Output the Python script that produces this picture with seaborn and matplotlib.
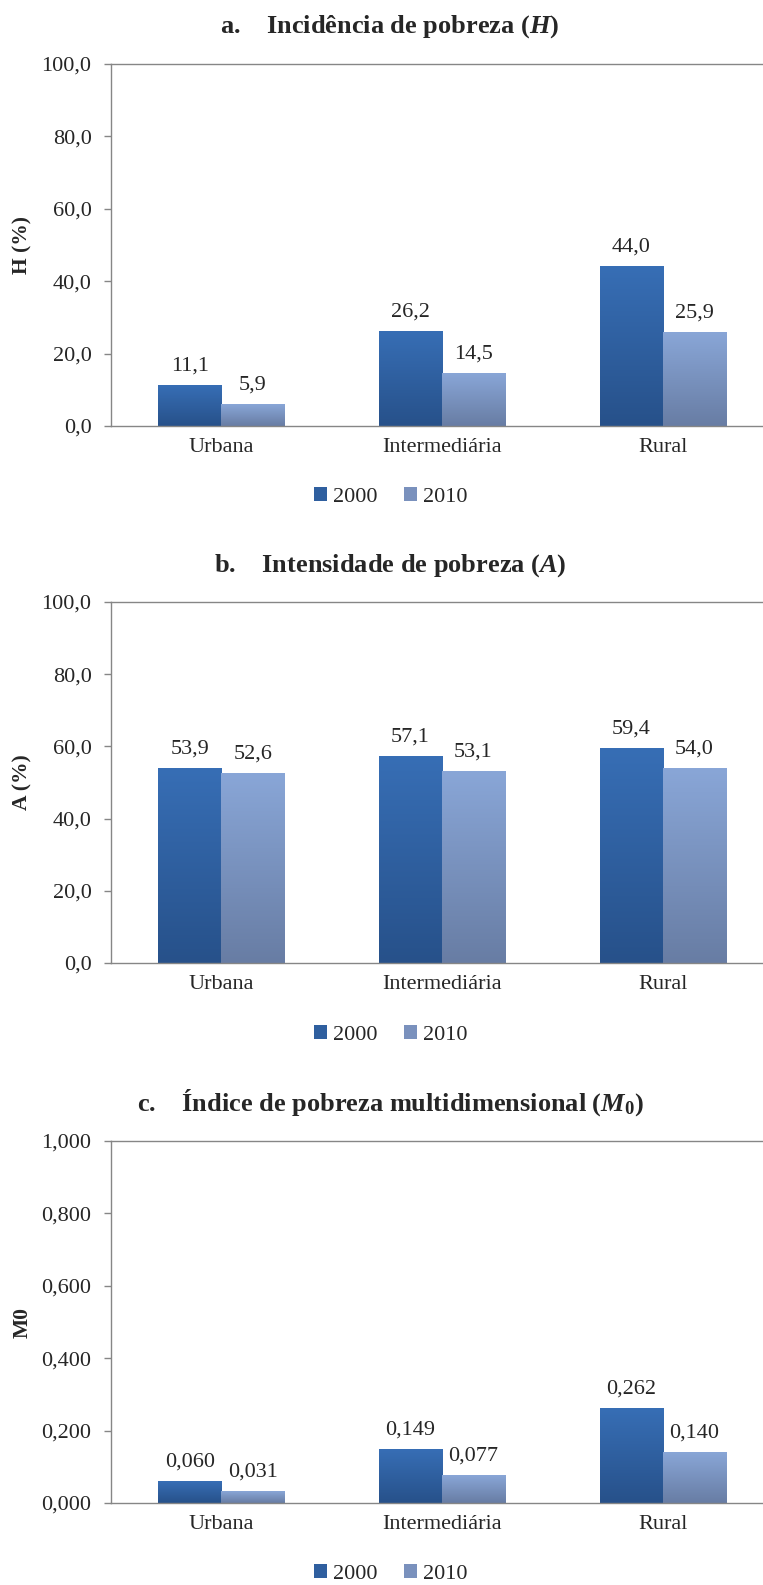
import numpy as np
import pandas as pd
import matplotlib
matplotlib.use('Agg')
import matplotlib.pyplot as plt
import seaborn as sns
from matplotlib.colors import LinearSegmentedColormap
from matplotlib.patches import Patch
from matplotlib.ticker import FuncFormatter

categorias = ['Urbana', 'Intermediária', 'Rural']
anos = ['2000', '2010']

H_2000 = [11.1, 26.2, 44.0]
H_2010 = [5.9, 14.5, 25.9]
A_2000 = [53.9, 57.1, 59.4]
A_2010 = [52.6, 53.1, 54.0]
M0_2000 = [0.060, 0.149, 0.262]
M0_2010 = [0.031, 0.077, 0.140]

titulos = [r'a.    Incidência de pobreza ($H$)',
           r'b.    Intensidade de pobreza ($A$)',
           r'c.    Índice de pobreza multidimensional ($M_0$)']
ylabels = ['H (%)', 'A (%)', 'M0']

sns.set_style('white')
plt.rcParams['font.family'] = ['Liberation Serif', 'DejaVu Serif']
plt.rcParams['mathtext.fontset'] = 'custom'
plt.rcParams['mathtext.it'] = 'Liberation Serif:italic:bold'
plt.rcParams['mathtext.rm'] = 'Liberation Serif:bold'
plt.rcParams['mathtext.bf'] = 'Liberation Serif:bold'

cinza = '#868686'
cmap_2000 = LinearSegmentedColormap.from_list('c2000', ['#27518a', '#376eb5'])
cmap_2010 = LinearSegmentedColormap.from_list('c2010', ['#687da4', '#89a6d7'])
cor_leg = ['#2f5f9f', '#7a91bd']
fs = 16

W, Hpx = 763, 1585
fig = plt.figure(figsize=(W / 100, Hpx / 100), dpi=100)

# pixel layout of each panel: (axes top, axes bottom, title y, legend y)
paineis = [(64, 426, 27, 497), (602, 963, 566, 1035), (1141, 1503, 1103, 1574)]
series = [(H_2000, H_2010), (A_2000, A_2010), (M0_2000, M0_2010)]
ymax = [100, 100, 1.0]
dec = [1, 1, 3]

for i, (top, bot, ty, ly) in enumerate(paineis):
    ax = fig.add_axes([111 / W, 1 - bot / Hpx, 662 / W, (bot - top) / Hpx])
    v2000, v2010 = series[i]
    df = pd.DataFrame({'cat': categorias * 2,
                       'ano': [anos[0]] * 3 + [anos[1]] * 3,
                       'valor': list(v2000) + list(v2010)})
    sns.barplot(data=df, x='cat', y='valor', hue='ano', hue_order=anos,
                width=0.572, legend=False, ax=ax, errorbar=None)

    d = dec[i]
    for cont, cmap in zip(ax.containers, [cmap_2000, cmap_2010]):
        for bar in cont:
            x0, w, h = bar.get_x(), bar.get_width(), bar.get_height()
            grad = np.linspace(0, 1, 100).reshape(-1, 1)
            ax.imshow(grad, extent=[x0, x0 + w, 0, h], origin='lower',
                      aspect='auto', cmap=cmap, zorder=2, interpolation='bilinear')
            bar.set_facecolor('none')
            bar.set_edgecolor('none')
            ax.annotate(f'{h:.{d}f}'.replace('.', ','), (x0 + w / 2, h),
                        xytext=(0, 10.8), textcoords='offset points',
                        ha='center', va='baseline', fontsize=fs)

    ax.set_xlim(-0.5, 2.5)
    ax.set_ylim(0, ymax[i])
    ax.set_yticks(np.linspace(0, ymax[i], 6))
    ax.yaxis.set_major_formatter(FuncFormatter(lambda v, p, d=d: f'{v:.{d}f}'.replace('.', ',')))
    ax.set_xticks([0, 1, 2])
    ax.set_xticklabels(categorias)
    ax.set_xticks([-0.5, 0.5, 1.5, 2.5], minor=True)
    ax.tick_params(axis='x', which='major', length=0, pad=8.5, labelsize=fs)
    ax.tick_params(axis='x', which='minor', length=5, width=1, color=cinza, direction='out')
    ax.tick_params(axis='y', length=5, width=1, color=cinza, pad=9, labelsize=fs, left=True)
    ax.set_xlabel('')
    ax.set_ylabel(ylabels[i], fontweight='bold', fontsize=15.5)
    ax.yaxis.set_label_coords(-0.118, 0.5)
    for s in ['left', 'bottom', 'top']:
        ax.spines[s].set_visible(True)
        ax.spines[s].set_color(cinza)
        ax.spines[s].set_linewidth(1)
    ax.spines['right'].set_visible(False)

    fig.text(390 / W, 1 - ty / Hpx, titulos[i], ha='center', va='center',
             fontsize=19, fontweight='bold')

    handles = [Patch(facecolor=c, edgecolor='none', label=a) for c, a in zip(cor_leg, anos)]
    fig.legend(handles=handles, loc='center', bbox_to_anchor=(391 / W, 1 - ly / Hpx),
               ncol=2, frameon=False, fontsize=fs, handlelength=0.55, handleheight=0.55,
               handletextpad=0.3, columnspacing=1.2)

fig.savefig('out.png', dpi=100)
